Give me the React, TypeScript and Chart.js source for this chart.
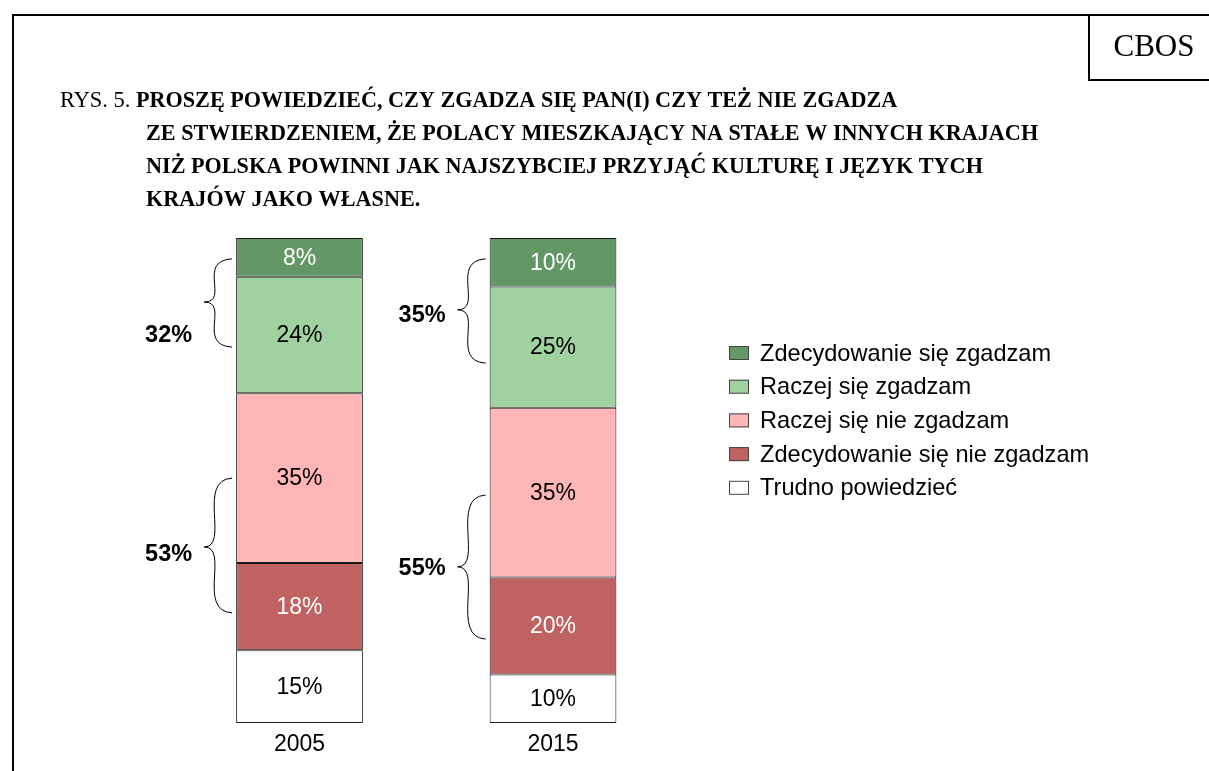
import React, { useEffect, useRef } from "react";
import { Chart, registerables } from "chart.js";

Chart.register(...registerables);

// ---- data ----
const years = ["2005", "2015"];
const hardToSay = [15, 10];
const strongDisagree = [18, 20];
const ratherDisagree = [35, 35];
const ratherAgree = [24, 25];
const strongAgree = [8, 10];

const seriesLabels = [
  "Trudno powiedzieć",
  "Zdecydowanie się nie zgadzam",
  "Raczej się nie zgadzam",
  "Raczej się zgadzam",
  "Zdecydowanie się zgadzam",
];
const agreeTotals = [32, 35];
const disagreeTotals = [53, 55];

const titleLines = [
  "PROSZĘ POWIEDZIEĆ, CZY ZGADZA SIĘ PAN(I) CZY TEŻ NIE ZGADZA",
  "ZE STWIERDZENIEM, ŻE POLACY MIESZKAJĄCY NA STAŁE W INNYCH KRAJACH",
  "NIŻ POLSKA POWINNI JAK NAJSZYBCIEJ PRZYJĄĆ KULTURĘ I JĘZYK TYCH",
  "KRAJÓW JAKO WŁASNE.",
];

// ---- styles / layout ----
const COLORS = ["#ffffff", "#c06262", "#ffb6b6", "#a0d2a0", "#639866"];
const LABEL_COLORS = ["#000", "#fff", "#000", "#000", "#fff"];
const SANS = "'Liberation Sans', Arial, sans-serif";
const SERIF = "'Liberation Serif', 'Times New Roman', serif";
// brace spans in value units: [top, bottom, tip, labelY]
const AGREE_BRACE = [
  [95.7, 77.5, 86.8, 79.8],
  [95.7, 74.2, 85.2, 84.1],
];
const DISAGREE_BRACE = [
  [50.5, 22.7, 36.3, 34.8],
  [47.0, 17.3, 32.2, 31.8],
];

function drawBrace(ctx: CanvasRenderingContext2D, xr: number, xt: number, y1: number, y2: number, ym: number) {
  ctx.beginPath();
  ctx.moveTo(xr, y1);
  ctx.bezierCurveTo(xt - 8, y1 + 2, xt + 26, ym, xt, ym);
  ctx.bezierCurveTo(xt + 26, ym, xt - 8, y2 - 2, xr, y2);
  ctx.stroke();
}

const decorPlugin = {
  id: "decor",
  beforeDraw(chart: any) {
    const ctx = chart.ctx as CanvasRenderingContext2D;
    ctx.save();
    ctx.fillStyle = "#fff";
    ctx.fillRect(0, 0, chart.width, chart.height);
    // frame
    ctx.strokeStyle = "#000";
    ctx.lineWidth = 2;
    ctx.beginPath();
    ctx.moveTo(13, chart.height);
    ctx.lineTo(13, 15);
    ctx.lineTo(chart.width, 15);
    ctx.stroke();
    ctx.beginPath();
    ctx.moveTo(1089, 15);
    ctx.lineTo(1089, 80);
    ctx.lineTo(chart.width, 80);
    ctx.stroke();
    // CBOS
    ctx.fillStyle = "#000";
    ctx.font = `31px ${SERIF}`;
    ctx.textAlign = "center";
    ctx.textBaseline = "middle";
    ctx.fillText("CBOS", 1154, 48);
    // title
    ctx.textAlign = "left";
    ctx.font = `22.4px ${SERIF}`;
    const prefix = "RYS. 5. ";
    ctx.fillText(prefix, 60, 101);
    const pw = ctx.measureText(prefix).width;
    ctx.font = `bold 22.2px ${SERIF}`;
    titleLines.forEach((line, i) => {
      ctx.fillText(line, i === 0 ? 60 + pw : 146, 101 + i * 33);
    });
    ctx.restore();
  },
  afterDatasetsDraw(chart: any) {
    const ctx = chart.ctx as CanvasRenderingContext2D;
    const yScale = chart.scales.y;
    ctx.save();
    // segment labels
    ctx.font = `23px ${SANS}`;
    ctx.textAlign = "center";
    ctx.textBaseline = "middle";
    chart.data.datasets.forEach((ds: any, di: number) => {
      const meta = chart.getDatasetMeta(di);
      meta.data.forEach((bar: any, i: number) => {
        const v = ds.data[i];
        ctx.fillStyle = LABEL_COLORS[di];
        ctx.fillText(`${v}%`, bar.x, (bar.y + bar.base) / 2 + 1);
      });
    });
    // braces
    const firstMeta = chart.getDatasetMeta(0);
    ctx.strokeStyle = "#000";
    ctx.lineWidth = 1;
    ctx.font = `bold 23.5px ${SANS}`;
    ctx.textAlign = "right";
    ctx.fillStyle = "#000";
    years.forEach((_, i) => {
      const bar = firstMeta.data[i];
      const left = bar.x - bar.width / 2;
      const xr = left - 4;
      const xt = left - 32;
      const groups: [number[], number][] = [
        [AGREE_BRACE[i], agreeTotals[i]],
        [DISAGREE_BRACE[i], disagreeTotals[i]],
      ];
      groups.forEach(([b, total]) => {
        drawBrace(
          ctx,
          xr,
          xt,
          yScale.getPixelForValue(b[0]),
          yScale.getPixelForValue(b[1]),
          yScale.getPixelForValue(b[2])
        );
        ctx.fillText(`${total}%`, xt - 12, yScale.getPixelForValue(b[3]));
      });
    });
    // legend (top series first)
    ctx.font = `23.6px ${SANS}`;
    ctx.textAlign = "left";
    ctx.textBaseline = "middle";
    const n = chart.data.datasets.length;
    for (let k = 0; k < n; k++) {
      const di = n - 1 - k;
      const ds = chart.data.datasets[di];
      const cy = 353 + k * 33.7;
      ctx.fillStyle = ds.backgroundColor;
      ctx.fillRect(729, cy - 7, 20, 14);
      ctx.strokeStyle = "#444";
      ctx.lineWidth = 1;
      ctx.strokeRect(729.5, cy - 6.5, 19, 13);
      ctx.fillStyle = "#000";
      ctx.fillText(ds.label, 760, cy + 1);
    }
    ctx.restore();
  },
};

export default function App() {
  const ref = useRef<HTMLCanvasElement>(null);
  useEffect(() => {
    if (!ref.current) return;
    const seriesData = [hardToSay, strongDisagree, ratherDisagree, ratherAgree, strongAgree];
    const chart = new Chart(ref.current, {
      type: "bar",
      data: {
        labels: years,
        datasets: seriesData.map((d, i) => ({
          label: seriesLabels[i],
          data: d,
          backgroundColor: COLORS[i],
          borderColor: "#1a1a1a",
          borderWidth: 1,
          borderSkipped: false,
          barPercentage: 0.5,
          categoryPercentage: 1.0,
        })),
      },
      options: {
        responsive: false,
        maintainAspectRatio: false,
        animation: false,
        devicePixelRatio: 1,
        layout: { padding: { left: 172.75, right: 529.25, top: 238, bottom: 0 } },
        plugins: { legend: { display: false }, tooltip: { enabled: false }, title: { display: false } },
        scales: {
          x: {
            stacked: true,
            offset: true,
            grid: { display: false, drawTicks: false },
            border: { display: false },
            ticks: { color: "#000", font: { family: SANS, size: 23 }, padding: 8 },
            afterFit: (s: any) => {
              s.height = 48;
            },
          },
          y: { stacked: true, display: false, min: 0, max: 100 },
        },
      },
      plugins: [decorPlugin],
    });
    return () => chart.destroy();
  }, []);
  return (
    <div style={{ position: "fixed", left: 0, top: 0, width: 1209, height: 771, background: "#fff" }}>
      <canvas ref={ref} width={1209} height={771} style={{ display: "block", width: 1209, height: 771 }} />
    </div>
  );
}
